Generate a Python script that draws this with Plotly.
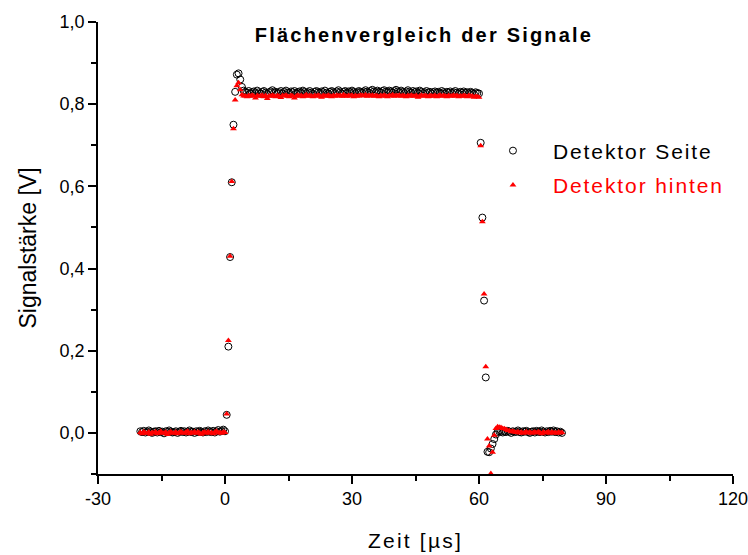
import numpy as np
import plotly.graph_objects as go

# ---------------- data ----------------
# sampling grid of the oscilloscope trace (µs), 0.4 µs spacing
t = np.round(np.arange(-20.0, 79.61, 0.4), 1)

seite_base1 = [0.004, 0.002, 0.005, 0.001, 0.003, 0.006, 0.002, 0.000, 0.003, 0.004,
               0.001, 0.005, 0.002, 0.003, -0.001, 0.004, 0.002, 0.006, 0.003, 0.001,
               0.002, 0.004, 0.000, 0.003, 0.005, 0.002, 0.004, 0.001, 0.003, 0.006,
               0.002, 0.003, 0.000, 0.004, 0.002, 0.005, 0.003, 0.001, 0.004, 0.002,
               0.006, 0.003, 0.002, 0.005, 0.001, 0.004, 0.007, 0.003, 0.005, 0.008,
               0.004]
seite_rise = [0.044, 0.210, 0.428, 0.610, 0.750, 0.830, 0.872, 0.875, 0.860, 0.842, 0.833]
seite_plateau = [0.830, 0.828, 0.832, 0.826, 0.829, 0.831, 0.827, 0.833, 0.829, 0.826,
                 0.830, 0.832, 0.828, 0.825, 0.829, 0.831, 0.834, 0.828, 0.830, 0.827,
                 0.829, 0.832, 0.826, 0.830, 0.833, 0.828, 0.827, 0.831, 0.829, 0.832,
                 0.826, 0.829, 0.831, 0.828, 0.833, 0.830, 0.827, 0.829, 0.832, 0.828,
                 0.825, 0.830, 0.832, 0.829, 0.827, 0.831, 0.829, 0.833, 0.828, 0.826,
                 0.830, 0.832, 0.829, 0.827, 0.831, 0.834, 0.829, 0.826, 0.830, 0.832,
                 0.828, 0.831, 0.829, 0.833, 0.830, 0.827, 0.829, 0.832, 0.830, 0.828,
                 0.831, 0.834, 0.830, 0.828, 0.832, 0.835, 0.831, 0.829, 0.833, 0.830,
                 0.828, 0.832, 0.834, 0.830, 0.829, 0.833, 0.831, 0.828, 0.832, 0.835,
                 0.831, 0.829, 0.833, 0.830, 0.827, 0.831, 0.834, 0.830, 0.828, 0.832,
                 0.829, 0.831, 0.828, 0.833, 0.830, 0.827, 0.829, 0.832, 0.828, 0.830,
                 0.826, 0.829, 0.831, 0.828, 0.830, 0.827, 0.832, 0.829, 0.826, 0.830,
                 0.828, 0.831, 0.827, 0.829, 0.832, 0.828, 0.826, 0.830, 0.828, 0.831,
                 0.827, 0.829, 0.826, 0.830, 0.828, 0.825, 0.829, 0.827, 0.826]
seite_fall = [0.706, 0.524, 0.322, 0.135, -0.046, -0.047, -0.038, -0.027, -0.015, -0.004]
seite_base2 = [0.002, 0.004, 0.003, 0.001, 0.004, 0.002, 0.005, 0.003, 0.000, 0.004,
               0.002, 0.003, 0.006, 0.002, 0.001, 0.004, 0.003, 0.005, 0.002, 0.000,
               0.003, 0.004, 0.001, 0.005, 0.003, 0.002, 0.006, 0.003, 0.001, 0.004,
               0.002, 0.005, 0.003, 0.006, 0.002, 0.004, 0.001, 0.003, 0.000]

hinten_base1 = [0.001, -0.002, 0.003, 0.000, -0.001, 0.002, -0.003, 0.001, 0.000, 0.003,
                -0.002, 0.001, 0.004, -0.001, 0.000, 0.002, -0.004, 0.001, 0.003, -0.001,
                0.000, 0.002, -0.002, 0.001, 0.003, 0.000, -0.001, 0.002, 0.004, -0.002,
                0.001, 0.000, 0.003, -0.001, 0.002, 0.000, -0.003, 0.001, 0.002, -0.001,
                0.003, 0.000, 0.001, -0.002, 0.002, 0.004, 0.000, 0.001, -0.001, 0.002,
                0.001]
hinten_rise = [0.046, 0.225, 0.430, 0.612, 0.740, 0.810, 0.845, 0.852, 0.835, 0.823, 0.820]
hinten_plateau = [0.820, 0.818, 0.821, 0.819, 0.822, 0.820, 0.815, 0.821, 0.819, 0.820,
                  0.822, 0.818, 0.821, 0.814, 0.820, 0.819, 0.822, 0.820, 0.818, 0.821,
                  0.819, 0.816, 0.821, 0.820, 0.822, 0.819, 0.818, 0.821, 0.820, 0.815,
                  0.820, 0.822, 0.819, 0.821, 0.818, 0.820, 0.823, 0.819, 0.821, 0.820,
                  0.818, 0.821, 0.819, 0.822, 0.820, 0.817, 0.821, 0.820, 0.819, 0.822,
                  0.820, 0.818, 0.821, 0.819, 0.822, 0.820, 0.821, 0.819, 0.823, 0.820,
                  0.819, 0.821, 0.820, 0.822, 0.818, 0.821, 0.819, 0.820, 0.822, 0.821,
                  0.820, 0.823, 0.819, 0.821, 0.820, 0.822, 0.819, 0.821, 0.820, 0.818,
                  0.821, 0.819, 0.822, 0.820, 0.818, 0.821, 0.820, 0.823, 0.819, 0.821,
                  0.820, 0.822, 0.819, 0.821, 0.820, 0.818, 0.821, 0.819, 0.822, 0.820,
                  0.819, 0.821, 0.817, 0.820, 0.822, 0.819, 0.821, 0.820, 0.818, 0.821,
                  0.820, 0.819, 0.821, 0.818, 0.820, 0.822, 0.819, 0.821, 0.820, 0.818,
                  0.821, 0.819, 0.820, 0.822, 0.819, 0.821, 0.818, 0.820, 0.819, 0.821,
                  0.820, 0.818, 0.821, 0.819, 0.820, 0.817, 0.819, 0.818, 0.817]
hinten_fall = [0.699, 0.514, 0.338, 0.161, -0.015, -0.032, -0.099, -0.047, -0.006, 0.011]
hinten_base2 = [0.015, 0.014, 0.013, 0.011, 0.010, 0.008, 0.006, 0.005, 0.003, 0.004,
                0.002, 0.001, 0.003, 0.000, 0.002, -0.001, 0.001, 0.003, 0.000, 0.002,
                -0.001, 0.001, 0.002, 0.000, 0.003, 0.001, -0.002, 0.002, 0.000, 0.001,
                0.003, -0.001, 0.002, 0.000, 0.001, -0.001, 0.002, 0.000, 0.001]

seite = seite_base1 + seite_rise + seite_plateau + seite_fall + seite_base2
hinten = hinten_base1 + hinten_rise + hinten_plateau + hinten_fall + hinten_base2

x_ticks = [-30, 0, 30, 60, 90, 120]
x_ticklabels = ["-30", "0", "30", "60", "90", "120"]
y_ticks = [0.0, 0.2, 0.4, 0.6, 0.8, 1.0]
y_ticklabels = ["0,0", "0,2", "0,4", "0,6", "0,8", "1,0"]

name_seite = "Detektor Seite"
name_hinten = "Detektor hinten"
title_text = "Flächenvergleich der Signale"
x_title = "Zeit [µs]"
y_title = "Signalstärke [V]"

FONT = "Liberation Sans, Arial, sans-serif"


def spaced(text, px, color=None):
    style = "letter-spacing:%.1fpx" % px
    if color:
        style += ";color:" + color
    return "<span style='%s'>%s</span>" % (style, text)


fig = go.Figure()
fig.add_trace(go.Scatter(
    x=t, y=seite, mode="markers", name=spaced(name_seite, 1.9), legendgroup="a",
    marker=dict(symbol="circle-open", size=7, color="black", line=dict(width=1, color="black")),
))
fig.add_trace(go.Scatter(
    x=t, y=hinten, mode="markers", name=spaced(name_hinten, 1.9, "#ff0000"),
    legendgroup="b",
    marker=dict(symbol="triangle-up", size=6, color="#ff0000", line=dict(width=0)),
))

fig.update_layout(
    width=748, height=555,
    paper_bgcolor="white", plot_bgcolor="white",
    margin=dict(l=98, r=15, t=22, b=81, autoexpand=False),
    font=dict(family=FONT, color="black", size=18),
    title=dict(text="<b>" + spaced(title_text, 2.2) + "</b>", x=424 / 748, xref="container",
               xanchor="center", y=1 - 35 / 555, yref="container", yanchor="middle",
               font=dict(family=FONT, size=20, color="black")),
    legend=dict(x=0.5905, y=0.760, xanchor="left", yanchor="top", bgcolor="rgba(0,0,0,0)",
                font=dict(family=FONT, size=21, color="black"), itemwidth=70,
                tracegroupgap=4),
    showlegend=True,
)
fig.update_xaxes(
    range=[-30, 120], tickmode="array", tickvals=x_ticks, ticktext=x_ticklabels,
    showgrid=False, zeroline=False, automargin=False, ticklabeloverflow="allow",
    showline=True, linecolor="black", linewidth=1.5,
    ticks="outside", ticklen=8, tickwidth=1.5, tickcolor="black",
    tickfont=dict(family=FONT, size=18, color="black"),
    minor=dict(ticks="outside", dtick=15, tick0=0, ticklen=5, tickwidth=1.5, tickcolor="black", showgrid=False),
    title=dict(text=spaced(x_title, 2.2), font=dict(family=FONT, size=21, color="black"), standoff=25),
)
fig.update_yaxes(
    range=[-0.1, 1.0], tickmode="array", tickvals=y_ticks, ticktext=y_ticklabels,
    showgrid=False, zeroline=False, automargin=False, ticklabeloverflow="allow",
    showline=True, linecolor="black", linewidth=1.5,
    ticks="outside", ticklen=8, tickwidth=1.5, tickcolor="black",
    tickfont=dict(family=FONT, size=18, color="black"),
    minor=dict(ticks="outside", dtick=0.1, tick0=0, ticklen=5, tickwidth=1.5, tickcolor="black", showgrid=False),
    title=dict(text=y_title, font=dict(family=FONT, size=23, color="black"), standoff=17),
)

fig.write_html("out.html")
